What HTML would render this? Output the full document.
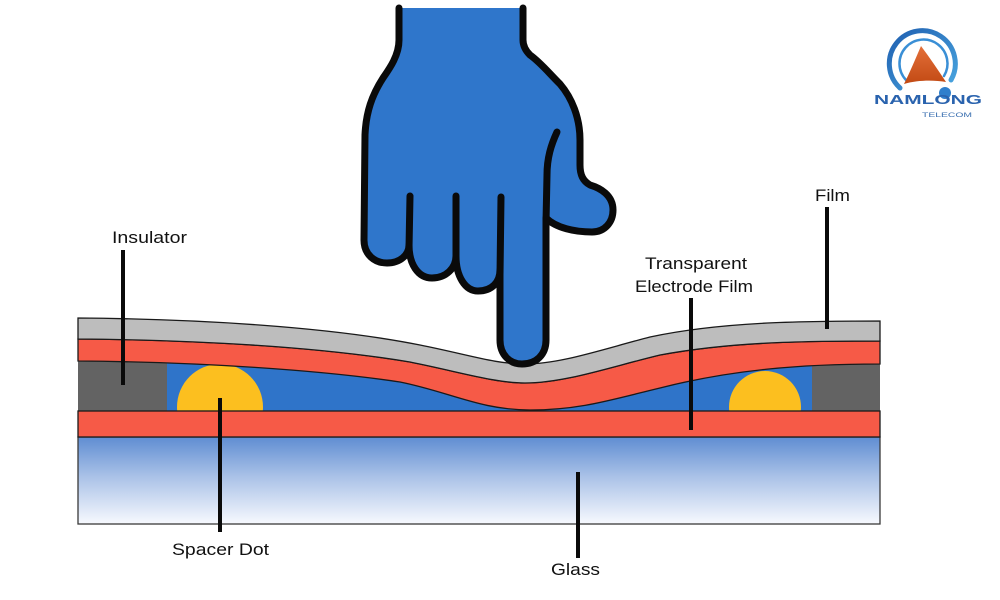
<!DOCTYPE html>
<html>
<head>
<meta charset="utf-8">
<style>
  html,body{margin:0;padding:0;background:#fff;}
  body{width:1000px;height:600px;overflow:hidden;}
  svg{display:block;}
  text{font-family:"Liberation Sans","DejaVu Sans",sans-serif;fill:#111;}
</style>
</head>
<body>
<svg width="1000" height="600" viewBox="0 0 1000 600" xmlns="http://www.w3.org/2000/svg">
  <defs>
    <linearGradient id="glass" x1="0" y1="0" x2="0" y2="1">
      <stop offset="0" stop-color="#5f8dd2"/>
      <stop offset="0.45" stop-color="#a9c1e7"/>
      <stop offset="1" stop-color="#f7f9fe"/>
    </linearGradient>
    <linearGradient id="ring" x1="0" y1="0" x2="1" y2="1">
      <stop offset="0" stop-color="#1f5fb0"/>
      <stop offset="1" stop-color="#4aa6e0"/>
    </linearGradient>
    <linearGradient id="orng" x1="0" y1="0" x2="0" y2="1">
      <stop offset="0" stop-color="#e4703a"/>
      <stop offset="1" stop-color="#c24a14"/>
    </linearGradient>
    <clipPath id="gapclip">
      <rect x="78" y="300" width="802" height="111"/>
    </clipPath>
  </defs>

  <rect width="1000" height="600" fill="#ffffff"/>

  <!-- Blue gap region -->
  <path d="M78,361 C200,362 320,370 400,382 C450,392 480,410 530,410 C580,410 610,400 660,388 C730,370 800,364 880,364 L880,411 L78,411 Z" fill="#2f74c9"/>

  <!-- Insulators -->
  <rect x="78" y="352" width="89" height="59" fill="#636363"/>
  <rect x="812" y="352" width="68" height="59" fill="#636363"/>

  <!-- Spacer dots (clipped to gap) -->
  <g clip-path="url(#gapclip)">
    <circle cx="220" cy="407" r="43" fill="#fcbf1f"/>
    <circle cx="765" cy="407" r="36" fill="#fcbf1f"/>
  </g>

  <!-- Glass -->
  <rect x="78" y="437" width="802" height="87" fill="url(#glass)" stroke="#3a3a3a" stroke-width="1.3"/>

  <!-- Bottom red electrode -->
  <rect x="78" y="411" width="802" height="26" fill="#f65a47" stroke="#1a1a1a" stroke-width="1.3"/>

  <!-- Upper red electrode film -->
  <path d="M78,339 C200,340 320,347 410,362 C460,372 495,383 525,383 C565,383 610,367 660,355 C730,342 800,341 880,341 L880,364 C800,364 730,370 660,388 C610,400 580,410 530,410 C480,410 450,392 400,382 C320,370 200,362 78,361 Z" fill="#f65a47" stroke="#1a1a1a" stroke-width="1.3"/>

  <!-- Gray film -->
  <path d="M78,318 C200,319 330,327 420,345 C470,355 495,364 525,364 C560,364 600,350 650,337 C720,322 800,321 880,321 L880,341 C800,341 730,342 660,355 C610,367 565,383 525,383 C495,383 460,372 410,362 C320,347 200,340 78,339 Z" fill="#bdbdbd" stroke="#1a1a1a" stroke-width="1.3"/>

  <!-- Hand -->
  <path d="M399,8 L399,40 C399,55 390,68 383,78 C372,95 366,112 365,135 L364,240 C364,255 375,263 387,263 C400,263 409,255 409,245 C409,264 418,278 432,278 C446,278 456,268 456,256 C456,276 465,291 478,291 C492,291 500,282 500,270 L500,340 C500,355 510,364 522,364 C536,364 546,355 546,340 L546,218 C556,228 575,232 592,232 C605,232 613,222 613,210 C613,195 600,188 590,185 C583,181 580,175 580,165 L580,140 C580,118 572,98 560,84 C548,72 540,62 530,55 C525,50 523,45 523,40 L523,8 Z" fill="#2f76cb"/>
  <path d="M399,8 L399,40 C399,55 390,68 383,78 C372,95 366,112 365,135 L364,240 C364,255 375,263 387,263 C400,263 409,255 409,245 C409,264 418,278 432,278 C446,278 456,268 456,256 C456,276 465,291 478,291 C492,291 500,282 500,270 L500,340 C500,355 510,364 522,364 C536,364 546,355 546,340 L546,218 C556,228 575,232 592,232 C605,232 613,222 613,210 C613,195 600,188 590,185 C583,181 580,175 580,165 L580,140 C580,118 572,98 560,84 C548,72 540,62 530,55 C525,50 523,45 523,40 L523,8" fill="none" stroke="#0a0a0a" stroke-width="7" stroke-linecap="round" stroke-linejoin="round"/>
  <g fill="none" stroke="#0a0a0a" stroke-width="7" stroke-linecap="round">
    <path d="M410,196 L409,248"/>
    <path d="M456,196 L456,258"/>
    <path d="M501,197 L500,275"/>
    <path d="M557,132 C551,145 547,158 547,175 L546,222"/>
  </g>

  <!-- Leader lines -->
  <g stroke="#0a0a0a" stroke-width="4" fill="none">
    <line x1="123" y1="250" x2="123" y2="385"/>
    <line x1="220" y1="398" x2="220" y2="532"/>
    <line x1="578" y1="472" x2="578" y2="558"/>
    <line x1="691" y1="298" x2="691" y2="430"/>
    <line x1="827" y1="207" x2="827" y2="329"/>
  </g>

  <!-- Labels -->
  <text x="112" y="243" font-size="17" textLength="75" lengthAdjust="spacingAndGlyphs">Insulator</text>
  <text x="172" y="555" font-size="17" textLength="97" lengthAdjust="spacingAndGlyphs">Spacer Dot</text>
  <text x="551" y="575" font-size="17" textLength="49" lengthAdjust="spacingAndGlyphs">Glass</text>
  <text x="645" y="269" font-size="17" textLength="102" lengthAdjust="spacingAndGlyphs">Transparent</text>
  <text x="635" y="292" font-size="17" textLength="118" lengthAdjust="spacingAndGlyphs">Electrode Film</text>
  <text x="815" y="201" font-size="17" textLength="35" lengthAdjust="spacingAndGlyphs">Film</text>

  <!-- Logo -->
  <g>
    <path d="M900,88 A33,33 0 1 1 951,80" fill="none" stroke="url(#ring)" stroke-width="5" stroke-linecap="round"/>
    <path d="M906,80 A24,24 0 1 1 944,76" fill="none" stroke="#3a8fd6" stroke-width="2.5" stroke-linecap="round"/>
    <path d="M921,46 C915,60 910,72 904,84 C918,80 933,80 946,82 C938,70 930,58 921,46 Z" fill="url(#orng)"/>
    <circle cx="945" cy="93" r="6" fill="#2f7fcc"/>
    <text x="874" y="104" font-size="12.5" font-weight="bold" textLength="108" lengthAdjust="spacingAndGlyphs" style="fill:#2a63ae">NAMLONG</text>
    <text x="922" y="117" font-size="6" textLength="50" lengthAdjust="spacingAndGlyphs" style="fill:#3a6fb0">TELECOM</text>
  </g>
</svg>
</body>
</html>
